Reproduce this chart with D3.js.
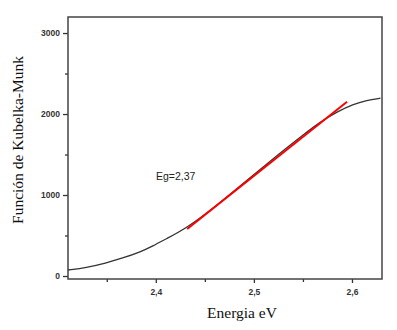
<!DOCTYPE html>
<html><head><meta charset="utf-8">
<script src="https://cdn.jsdelivr.net/npm/d3@7"></script>
<style>body{margin:0;background:#fff}</style>
</head><body>
<svg id="c" width="397" height="330"></svg>
<script>
const energy = [2.3105, 2.329, 2.349, 2.366, 2.384, 2.397, 2.41, 2.431, 2.459, 2.493, 2.527, 2.551, 2.568, 2.585, 2.601, 2.615, 2.629];
const km     = [74, 103, 160, 220, 295, 370, 455, 589, 840, 1185, 1520, 1750, 1905, 2028, 2120, 2168, 2196];
const fitEnergy = [2.432, 2.595];
const fitKM     = [580, 2152];
const xTicks = [2.4, 2.5, 2.6];
const xMinor = [2.35, 2.45, 2.55];
const yTicks = [0, 1000, 2000, 3000];
const yMinor = [500, 1500, 2500];
const label = "Eg=2,37";

const svg = d3.select("#c");
const L = 68, R = 382, T = 17, B = 279;
const x = d3.scaleLinear().domain([2.3105, 2.6306]).range([L, R]);
const y = d3.scaleLinear().domain([-37, 3198]).range([B, T]);
const fmt = d => d3.format(".1f")(d).replace(".", ",");

const xa = svg.append("g").attr("transform", `translate(0,${B})`)
  .call(d3.axisBottom(x).tickValues(xTicks).tickSize(4).tickPadding(6).tickFormat(fmt));
const xm = svg.append("g").attr("transform", `translate(0,${B})`)
  .call(d3.axisBottom(x).tickValues(xMinor).tickSize(3).tickFormat(""));
const ya = svg.append("g").attr("transform", `translate(${L},0)`)
  .call(d3.axisLeft(y).tickValues(yTicks).tickSize(5).tickPadding(3).tickFormat(d3.format("d")));
const ym = svg.append("g").attr("transform", `translate(${L},0)`)
  .call(d3.axisLeft(y).tickValues(yMinor).tickSize(3).tickFormat(""));
[xa, xm, ya, ym].forEach(g => {
  g.select(".domain").remove();
  g.selectAll("line").attr("stroke", "#333").attr("stroke-width", 1.3);
  g.selectAll("text").attr("font-family", "Arial, Liberation Sans, sans-serif")
    .attr("font-size", 8.5).attr("fill", "#333").attr("font-weight", "bold");
});

svg.append("rect").attr("x", L).attr("y", T).attr("width", R - L).attr("height", B - T)
  .attr("fill", "none").attr("stroke", "#444").attr("stroke-width", 1.5);

const line = d3.line().x((d, i) => x(energy[i])).y(d => y(d)).curve(d3.curveBasis);
svg.append("path").attr("d", line(km)).attr("fill", "none")
  .attr("stroke", "#333").attr("stroke-width", 1.3);

const fline = d3.line().x((d, i) => x(fitEnergy[i])).y(d => y(d));
svg.append("path").attr("d", fline(fitKM)).attr("fill", "none")
  .attr("stroke", "#ff0000").attr("stroke-width", 2);

svg.append("text").attr("x", 156).attr("y", 180).text(label)
  .attr("font-family", "Arial, Liberation Sans, sans-serif").attr("font-size", 10.5)
  .attr("fill", "#222");
svg.append("text").attr("x", (L + R) / 2 + 17).attr("y", 318).attr("text-anchor", "middle")
  .attr("font-family", "Liberation Serif, Times New Roman, serif").attr("font-size", 15.5)
  .attr("fill", "#111").text("Energia eV");
svg.append("text").attr("transform", `translate(23,${140}) rotate(-90)`).attr("text-anchor", "middle")
  .attr("font-family", "Liberation Serif, Times New Roman, serif").attr("font-size", 15.5)
  .attr("fill", "#111").text("Función de Kubelka-Munk");
</script>
</body></html>
